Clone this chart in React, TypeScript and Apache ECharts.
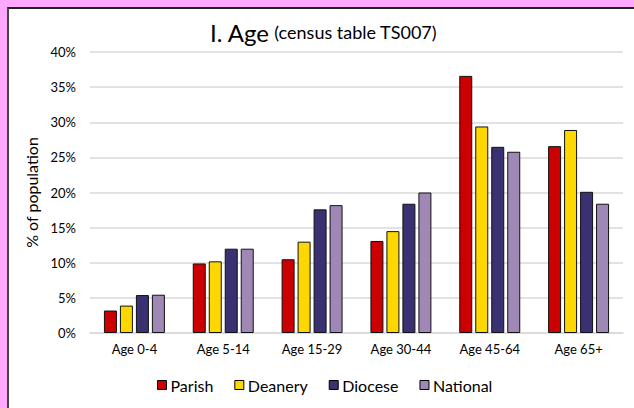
import React, { useEffect, useRef } from "react";
import * as echarts from "echarts";

const categories = ["Age 0-4", "Age 5-14", "Age 15-29", "Age 30-44", "Age 45-64", "Age 65+"];
const seriesNames = ["Parish", "Deanery", "Diocese", "National"];
const parish = [3.2, 9.9, 10.5, 13.1, 36.6, 26.6];
const deanery = [3.9, 10.2, 13.0, 14.5, 29.4, 28.9];
const diocese = [5.4, 12.0, 17.6, 18.4, 26.5, 20.1];
const national = [5.45, 12.0, 18.2, 20.0, 25.8, 18.4];
const colors = ["#cc0000", "#ffd700", "#3a3172", "#a088b6"];

const FONT = "Lato, 'Open Sans', sans-serif";

export default function App() {
  const ref = useRef<HTMLDivElement>(null);
  useEffect(() => {
    if (!ref.current) return;
    document.body.style.margin = "0";
    document.body.style.overflow = "hidden";
    const chart = echarts.init(ref.current, null, { renderer: "svg" });
    const data = [parish, deanery, diocese, national];
    chart.setOption({
      animation: false,
      textStyle: { fontFamily: FONT },
      title: {
        text: "{a|I. Age} {b|(census table TS007)}",
        left: 205,
        top: 15,
        textStyle: {
          fontWeight: "normal",
          rich: {
            a: { fontSize: 24, color: "#000", fontFamily: FONT, fontWeight: "normal" },
            b: { fontSize: 18, color: "#000", fontFamily: FONT, fontWeight: "normal" },
          },
        },
      },
      legend: {
        bottom: 10,
        left: 152,
        icon: "rect",
        itemWidth: 9,
        itemHeight: 9,
        itemGap: 21,
        textStyle: { fontSize: 16, color: "#000", fontFamily: FONT, padding: [0, 0, 0, -1] },
        itemStyle: { borderColor: "#000", borderWidth: 1 },
        data: seriesNames,
      },
      grid: { left: 90, right: 11, top: 52, bottom: 75 },
      xAxis: {
        type: "category",
        data: categories,
        axisTick: { show: false },
        axisLine: { lineStyle: { color: "#d9d9d9", width: 1.5 } },
        axisLabel: { color: "#000", fontSize: 13, margin: 9, fontFamily: FONT },
      },
      yAxis: {
        type: "value",
        min: 0,
        max: 40,
        interval: 5,
        name: "% of population",
        nameLocation: "middle",
        nameGap: 47,
        nameTextStyle: { fontSize: 16, color: "#000", fontFamily: FONT },
        axisLabel: { formatter: "{value}%", color: "#000", fontSize: 13, margin: 14, fontFamily: FONT },
        splitLine: { lineStyle: { color: "#d9d9d9", width: 1.5 } },
        axisLine: { show: false },
        axisTick: { show: false },
      },
      series: seriesNames.map((name, i) => ({
        name,
        type: "bar",
        data: data[i],
        barWidth: 13,
        barGap: "23%",
        itemStyle: { color: colors[i], borderColor: "#111", borderWidth: 1 },
      })),
    });
    return () => chart.dispose();
  }, []);
  return (
    <div style={{ position: "fixed", left: 0, top: 0, width: 634, height: 408, background: "#ffa8ff", overflow: "hidden" }}>
      <div
        style={{
          position: "absolute",
          left: 7,
          top: 7,
          right: -20,
          bottom: -20,
          background: "#fff",
          borderLeft: "2px solid #444",
          borderTop: "2px solid #222",
        }}
      />
      <div ref={ref} style={{ position: "absolute", left: 0, top: 0, width: 634, height: 408 }} />
    </div>
  );
}
